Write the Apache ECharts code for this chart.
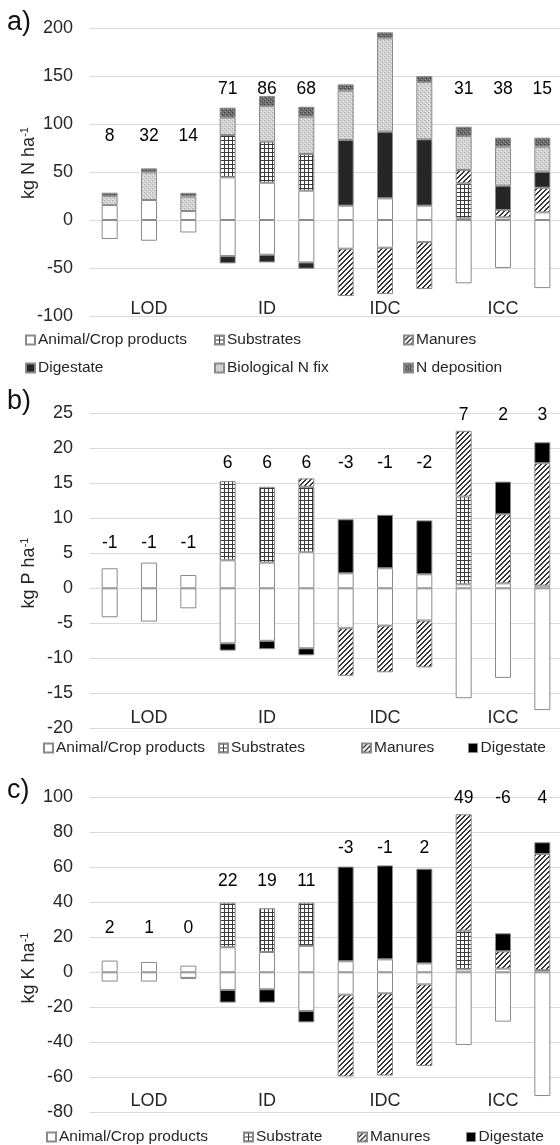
<!DOCTYPE html>
<html>
<head>
<meta charset="utf-8">
<script src="https://cdn.jsdelivr.net/npm/echarts@6/dist/echarts.min.js"></script>
<style>html,body{margin:0;padding:0;background:#fff}#c{width:560px;height:1145px}</style>
</head>
<body>
<div id="c"></div>
<script>
// ---------- categories ----------
const categories = ['LOD-1','LOD-2','LOD-3','ID-1','ID-2','ID-3','IDC-1','IDC-2','IDC-3','ICC-1','ICC-2','ICC-3'];
const groups = ['LOD','ID','IDC','ICC'];

// ---------- a) Nitrogen (kg N/ha) ----------
const nAnimalIn  = [15.6, 20.9, 9.4, 44.5, 38.9, 30.6, 15, 22.6, 15, 1.7, 2.8, 8];
const nAnimalOut = [-19.8, -21.6, -13, -37.6, -36.2, -44.2, -29.9, -28.9, -23, -66, -50, -71];
const nSubstrates = [null, null, null, 44.2, 42.8, 38.3, null, null, null, 36.6, null, null];
const nManures    = [null, null, null, null, null, null, -49.4, -48.3, -49, 13.9, 7.6, 25.7];
const nDigestate  = [null, null, null, -7.6, -8, -6.6, 68.5, 69.6, 69.2, null, 25.4, 16.7];
const nBNF        = [9.4, 28.8, 15, 18.1, 37.2, 38.9, 51.4, 97.3, 59.8, 35.4, 40.7, 26.1];
const nDeposition = [3.5, 4.2, 4, 10.4, 10.5, 10.4, 6.6, 6.3, 6.2, 9.8, 9.4, 9.4];
const nBalance    = [8, 32, 14, 71, 86, 68, 63, 118, 79, 31, 38, 15];
const nBalanceAt  = [87, 136, 202, 136];   // value height of balance text per group

// ---------- b) Phosphorus (kg P/ha) ----------
const pAnimalIn  = [2.86, 3.67, 1.9, 4, 3.67, 5.14, 2.14, 2.86, 2, 0.57, 0.71, 0.38];
const pAnimalOut = [-4.14, -4.76, -2.86, -7.86, -7.5, -8.57, -5.71, -5.33, -4.6, -15.7, -12.8, -17.4];
const pSubstrates = [null, null, null, 11.33, 10.83, 9.36, null, null, null, 12.53, null, null];
const pManures    = [null, null, null, null, null, 1.2, -6.79, -6.67, -6.7, 9.4, 9.86, 17.48];
const pDigestate  = [null, null, null, -1.04, -1.2, -1, 7.72, 7.64, 7.7, null, 4.67, 3];
const pBalance    = [-1, -1, -1, 6, 6, 6, -3, -1, -2, 7, 2, 3];
const pBalanceAt  = [6.5, 17.9, 17.9, 24.8];

// ---------- c) Potassium (kg K/ha) ----------
const kAnimalIn  = [6.7, 5.9, 3.8, 14.3, 11.6, 15.1, 6.3, 7.4, 5.1, 1.7, 2.1, 1.3];
const kAnimalOut = [-5.3, -5.3, -3.2, -10.1, -9.7, -22.1, -12.8, -12, -6.9, -41.5, -28.2, -70.7];
const kSubstrate  = [null, null, null, 25.5, 25, 24.7, null, null, null, 22.1, null, null];
const kManures    = [null, null, -0.6, null, null, null, -46.7, -47, -46.6, 66.5, 9.9, 66.3];
const kDigestate  = [null, null, null, -7.2, -7.6, -6.5, 54.1, 53.7, 54.1, null, 10.3, 6.7];
const kBalance    = [2, 1, 0, 22, 19, 11, -3, -1, 2, 49, -6, 4];
const kBalanceAt  = [25.5, 51.8, 70.9, 99.4];

// ---------- patterns ----------
function pattern(size, draw) {
  const c = document.createElement('canvas');
  c.width = size; c.height = size;
  const g = c.getContext('2d');
  draw(g, size);
  return { image: c, repeat: 'repeat' };
}
const gridPat = pattern(4, g => {
  g.fillStyle = '#fff'; g.fillRect(0, 0, 4, 4);
  g.fillStyle = '#3a3a3a'; g.fillRect(0, 0, 4, 1); g.fillRect(0, 0, 1, 4);
});
const hatchPat = pattern(5, g => {
  g.fillStyle = '#fff'; g.fillRect(0, 0, 5, 5);
  g.fillStyle = '#333333';
  for (let i = 0; i < 5; i++) { g.fillRect(4 - i, i, 1, 1); g.fillRect((5 - i) % 5, i, 1, 1); }
});
const bnfPat = pattern(4, g => {
  g.fillStyle = '#d2d2d2'; g.fillRect(0, 0, 4, 4);
  g.fillStyle = '#aaaaaa'; g.fillRect(0, 0, 1, 1); g.fillRect(2, 2, 1, 1);
  g.fillStyle = '#eeeeee'; g.fillRect(1, 3, 1, 1); g.fillRect(3, 1, 1, 1);
});
const depPat = pattern(4, g => {
  g.fillStyle = '#6c6c6c'; g.fillRect(0, 0, 4, 4);
  g.fillStyle = '#3c3c3c'; g.fillRect(0, 0, 1, 1); g.fillRect(2, 2, 1, 1);
  g.fillStyle = '#a0a0a0'; g.fillRect(1, 3, 1, 1); g.fillRect(3, 1, 1, 1);
});

const FONT = "'Liberation Sans', Arial, sans-serif";
const TXT = '#262626';
const BORDER = '#8a8a8a';

const grids = [
  { top: 28.3, height: 287.6, min: -100, max: 200, interval: 50, groupMargin: 6.5 },
  { top: 413.3, height: 315, min: -20, max: 25, interval: 5, groupMargin: 10 },
  { top: 797.3, height: 315, min: -80, max: 100, interval: 20, groupMargin: 11.5 }
];

function barSeries(idx, name, data, color) {
  return {
    type: 'bar', name, data,
    xAxisIndex: idx * 2, yAxisIndex: idx, stack: 'p' + idx,
    barWidth: 16, silent: true,
    itemStyle: { color, borderColor: BORDER, borderWidth: 1 }
  };
}
function labelSeries(idx, balance, at) {
  return {
    type: 'scatter', xAxisIndex: idx * 2, yAxisIndex: idx, silent: true,
    symbolSize: 1, itemStyle: { color: 'rgba(0,0,0,0)' }, z: 10,
    data: balance.map((b, i) => [categories[i], at[Math.floor(i / 3)], b]),
    label: { show: true, position: 'inside', formatter: p => String(p.data[2]),
             fontSize: 17.5, color: '#000', opacity: 1, fontFamily: FONT }
  };
}

const series = [
  barSeries(0, 'Animal/Crop products', nAnimalIn, '#fff'),
  barSeries(0, 'Animal/Crop products', nAnimalOut, '#fff'),
  barSeries(0, 'Substrates', nSubstrates, gridPat),
  barSeries(0, 'Manures', nManures, hatchPat),
  barSeries(0, 'Digestate', nDigestate, '#262626'),
  barSeries(0, 'Biological N fix', nBNF, bnfPat),
  barSeries(0, 'N deposition', nDeposition, depPat),
  labelSeries(0, nBalance, nBalanceAt),

  barSeries(1, 'Animal/Crop products', pAnimalIn, '#fff'),
  barSeries(1, 'Animal/Crop products', pAnimalOut, '#fff'),
  barSeries(1, 'Substrates', pSubstrates, gridPat),
  barSeries(1, 'Manures', pManures, hatchPat),
  barSeries(1, 'Digestate', pDigestate, '#000'),
  labelSeries(1, pBalance, pBalanceAt),

  barSeries(2, 'Animal/Crop products', kAnimalIn, '#fff'),
  barSeries(2, 'Animal/Crop products', kAnimalOut, '#fff'),
  barSeries(2, 'Substrate', kSubstrate, gridPat),
  barSeries(2, 'Manures', kManures, hatchPat),
  barSeries(2, 'Digestate', kDigestate, '#000'),
  labelSeries(2, kBalance, kBalanceAt)
];

const xAxis = [], yAxis = [];
grids.forEach((g, i) => {
  xAxis.push({ type: 'category', gridIndex: i, data: categories,
    axisLine: { show: false }, axisTick: { show: false }, axisLabel: { show: false } });
  xAxis.push({ type: 'category', gridIndex: i, data: groups, position: 'bottom',
    axisLine: { show: false }, axisTick: { show: false }, splitLine: { show: false },
    axisLabel: { inside: true, margin: g.groupMargin, verticalAlign: 'middle',
                 fontSize: 18, color: TXT, fontFamily: FONT } });
  yAxis.push({ type: 'value', gridIndex: i, min: g.min, max: g.max, interval: g.interval,
    axisLine: { show: false }, axisTick: { show: false },
    axisLabel: { fontSize: 18, color: TXT, margin: 17, fontFamily: FONT },
    splitLine: { lineStyle: { color: '#d9d9d9', width: 1 } } });
});

function leg(name, left, yc, itemStyle) {
  return {
    data: [itemStyle ? { name, itemStyle } : name],
    left, top: yc - 9, icon: 'rect', itemWidth: 9, itemHeight: 9, padding: 0,
    selectedMode: false,
    textStyle: { fontSize: 15.5, color: TXT, fontFamily: FONT, lineHeight: 18, padding: [0, 0, 0, -2] }
  };
}
const blk = { color: '#000', borderColor: BORDER, borderWidth: 1 };
const legend = [
  leg('Animal/Crop products', 25, 340), leg('Substrates', 214, 340), leg('Manures', 403, 340),
  leg('Digestate', 25, 368), leg('Biological N fix', 214, 368), leg('N deposition', 403, 368),
  leg('Animal/Crop products', 43, 748), leg('Substrates', 218, 748), leg('Manures', 361, 748), leg('Digestate', 468, 748, blk),
  leg('Animal/Crop products', 46, 1137), leg('Substrate', 243, 1137), leg('Manures', 357, 1137), leg('Digestate', 466, 1137, blk)
];

function axisName(txt, yc) {
  return { type: 'text', x: 29, y: yc, rotation: Math.PI / 2, silent: true,
    style: { text: txt + '{s|-1}', fill: TXT, font: '18px ' + FONT, align: 'center', verticalAlign: 'middle',
      rich: { s: { fontSize: 11, fontFamily: FONT, fill: TXT, verticalAlign: 'top', lineHeight: 20 } } } };
}
function panelTag(txt, yc) {
  return { type: 'text', x: 7, y: yc, silent: true,
    style: { text: txt, fill: '#111', font: '27px ' + FONT, align: 'left', verticalAlign: 'middle' } };
}

const option = {
  animation: false,
  textStyle: { fontFamily: FONT },
  grid: grids.map(g => ({ left: 90, width: 472, top: g.top, height: g.height, outerBoundsMode: 'none', containLabel: false })),
  xAxis, yAxis, series, legend,
  graphic: [
    panelTag('a)', 23), panelTag('b)', 402), panelTag('c)', 791),
    axisName('kg N ha', 163), axisName('kg P ha', 573), axisName('kg K ha', 968)
  ]
};

const chart = echarts.init(document.getElementById('c'), null, { renderer: 'canvas' });
chart.setOption(option);
</script>
</body>
</html>
